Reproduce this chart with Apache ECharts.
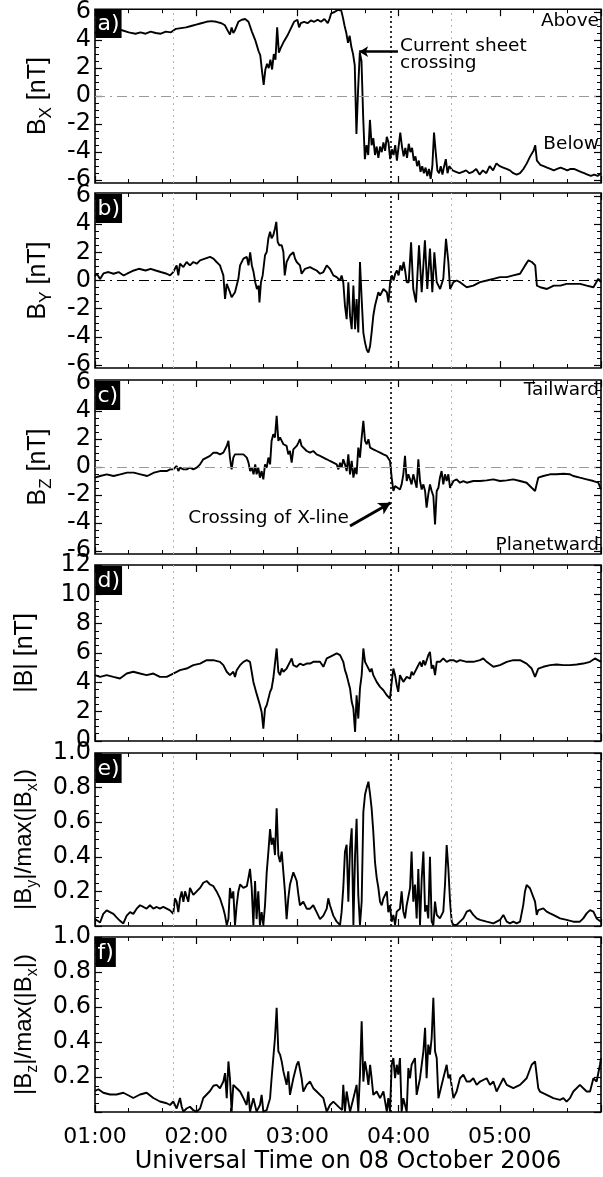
<!DOCTYPE html>
<html><head><meta charset="utf-8">
<script src="https://cdn.jsdelivr.net/npm/echarts@6/dist/echarts.min.js"></script>
<style>html,body{margin:0;padding:0;background:#fff}#c{width:603px;height:1177px}</style>
</head><body><div id="c"></div>
<script>
// time: minutes after 01:00 UT on 08 October 2006
const timeLabels = ['01:00','02:00','03:00','04:00','05:00','06:00'];
const fieldTicks = [-6,-4,-2,0,2,4,6];
const fieldMinorTicks = [-5.5,-5,-4.5,-3.5,-3,-2.5,-1.5,-1,-0.5,0.5,1,1.5,2.5,3,3.5,4.5,5,5.5];
const markerTimes = [46.2, 211.5];   // grey dotted reference times
const xlineTime = 175.5;             // black dotted: X-line crossing

const bxData = [[0,4.5],[3,4.7],[6,4.6],[10,4.7],[14,4.75],[16,4.7],[20,4.55],[24,4.45],[27,4.55],[30,4.45],[33,4.6],[36,4.5],[39,4.45],[42,4.6],[45,4.55],[48,4.8],[51,4.85],[54,4.9],[57,5.0],[60,5.1],[63,5.2],[66,5.3],[69,5.35],[72,5.3],[75,5.2],[77,5.05],[79,4.6],[80,4.4],[81,4.9],[82,4.5],[83,4.7],[85,5.3],[87,5.45],[89,5.5],[91,5.3],[93,4.6],[95,4.0],[96,3.6],[97,3.2],[98,2.9],[99,1.8],[100,0.8],[101,1.9],[102,2.3],[103,2.0],[104,2.6],[105,1.9],[106,3.0],[107,2.6],[108,4.9],[109,3.1],[110,3.4],[112,3.9],[114,4.3],[116,4.8],[118,5.3],[120,5.45],[121,4.9],[122,5.2],[124,5.3],[126,5.2],[128,5.4],[130,5.3],[132,5.45],[134,5.3],[136,5.5],[138,5.2],[139,5.5],[140,5.9],[142,6.0],[144,6.15],[146,6.1],[147,5.6],[148,5.0],[149,4.5],[150,3.8],[151,4.3],[152,3.5],[153,3.0],[154,2.2],[155,-2.7],[156,0.5],[157,3.1],[158,2.5],[159,-1.5],[160,-4.5],[161,-3.5],[162,-4.2],[163,-1.7],[164,-3.5],[165,-3.0],[166,-4.2],[167,-3.6],[168,-4.4],[169,-3.6],[170,-4.0],[171,-3.3],[172,-3.9],[173,-2.9],[174,-3.3],[175,-4.5],[176,-3.8],[177,-4.2],[178,-3.5],[179,-4.6],[181,-2.6],[182,-3.6],[183,-4.3],[184,-3.7],[185,-4.4],[186,-3.4],[187,-4.0],[188,-3.7],[189,-4.6],[190,-4.3],[191,-5.0],[192,-4.6],[193,-5.4],[194,-5.0],[195,-5.5],[196,-5.1],[197,-5.7],[198,-5.2],[199,-5.9],[200,-5.0],[201,-2.6],[202,-4.0],[203,-5.3],[204,-5.5],[205,-5.0],[206,-5.6],[207,-5.0],[208,-4.5],[209,-5.5],[210,-5.0],[212,-5.3],[214,-5.4],[216,-5.5],[218,-5.4],[220,-5.3],[222,-5.5],[224,-5.4],[226,-5.2],[228,-5.6],[230,-5.3],[232,-5.5],[234,-5.0],[236,-5.3],[238,-4.8],[240,-5.0],[242,-5.1],[244,-5.2],[246,-5.3],[248,-5.5],[250,-5.6],[252,-5.5],[254,-5.2],[256,-4.8],[258,-4.3],[260,-3.9],[261,-3.5],[262,-4.6],[264,-4.9],[266,-5.0],[268,-5.1],[270,-5.2],[272,-5.3],[274,-5.2],[276,-5.1],[278,-5.2],[280,-5.3],[282,-5.2],[284,-5.2],[286,-5.3],[288,-5.4],[290,-5.5],[292,-5.6],[294,-5.7],[296,-5.6],[298,-5.7],[300,-5.5]];

const byData = [[0,0.3],[1,0.5],[3,0.1],[5,0.5],[8,0.6],[11,0.48],[14,0.6],[17,0.36],[19,0.48],[23,0.71],[26,0.83],[30,0.71],[33,0.83],[36,0.71],[39,0.6],[42.5,0.48],[44.5,0.36],[46.4,0.6],[48.4,1.07],[49.4,0.36],[50.4,1.19],[52.4,0.95],[54.3,1.31],[56.3,1.07],[58.3,1.31],[60.3,1.19],[62.3,1.43],[65.2,1.55],[68.2,1.67],[70.2,1.55],[72.1,1.31],[74.1,1.07],[75.1,0.71],[76.1,0.36],[77.1,-1.31],[78.1,-0.24],[79.1,-0.12],[80,-0.83],[81,-1.19],[82,-1.31],[83,-0.83],[84,-0.36],[85,0.12],[86,1.07],[88,1.55],[90,1.67],[91,1.07],[92,2.0],[93,1.07],[94,0.6],[95,-0.12],[96,-0.6],[97,-0.36],[97.5,-1.55],[98.4,-0.12],[99.4,0.36],[100.8,1.79],[101.8,2.02],[102.8,3.0],[103.8,3.45],[104.7,3.0],[105.7,3.21],[106.7,3.69],[107.5,4.15],[108.3,2.74],[109.3,2.5],[110.7,2.5],[111.7,2.02],[112.5,0.36],[113.6,1.31],[114.6,1.55],[115.6,1.79],[117.6,2.0],[118.6,1.55],[119.6,1.31],[121.5,1.07],[122.5,0.48],[124.5,0.83],[127.5,0.95],[129.4,0.83],[131.4,0.71],[133.4,0.48],[135.4,0.6],[137.4,1.07],[138.3,0.95],[139.3,0.83],[141.3,0.36],[143.3,0.24],[145.3,0.0],[146.2,0.36],[147.2,-0.12],[148.2,-1.79],[149.2,-2.74],[150.2,-0.12],[151.2,-2.5],[152.2,-3.45],[153.2,-0.36],[154.2,-3.45],[155.1,-1.31],[156.1,-3.69],[157.1,1.31],[158.1,-1.31],[159.1,-3.69],[160.1,-4.4],[161.1,-4.9],[162.1,-5.1],[163.1,-4.64],[164,-3.69],[165,-2.5],[166,-1.79],[167,-1.31],[168,-0.83],[169,-1.07],[171,-0.6],[173,-0.83],[174,-1.55],[175,-0.12],[176,0.36],[177,0],[178,0.48],[179,0.71],[180,0.36],[181,1.07],[182,0.71],[183,1.31],[184,0.6],[184.8,-0.12],[186,-0.12],[187.4,2.7],[188.7,-0.6],[190.3,-1.55],[192.1,2.5],[193.7,-0.83],[195.6,2.85],[197,-0.6],[198.6,2.26],[200,-0.83],[201.2,2.0],[202.6,-0.12],[204.6,-0.6],[206.5,0.12],[208.1,2.95],[209.5,1.31],[210.5,-0.6],[212.5,-0.12],[214.4,0],[216.4,-0.12],[220.4,-0.48],[224.3,-0.36],[228.3,-0.12],[232.3,0],[236.2,0.12],[240.1,0.24],[244.1,0.24],[248,0.36],[252,0.48],[255,1.07],[257,1.43],[259,1.31],[261,1.07],[262,-0.36],[264,-0.48],[268,-0.6],[272,-0.36],[275.9,-0.36],[279.6,-0.24],[283.6,-0.24],[287.6,-0.24],[291.5,-0.36],[295.5,-0.48],[298.4,0.12],[300,-0.12]];

const bzData = [[0,-0.76],[3,-0.64],[7,-0.52],[11,-0.64],[15,-0.52],[19,-0.4],[23,-0.4],[27,-0.52],[31,-0.64],[35,-0.4],[38.5,-0.29],[42.5,-0.29],[44.5,-0.17],[46.4,-0.17],[48.4,0.07],[49.4,-0.29],[50.4,-0.05],[52.4,-0.17],[54.3,-0.17],[56.3,-0.05],[58.3,-0.17],[60.3,-0.05],[62.3,0.19],[64.2,0.55],[66.2,0.67],[68.2,0.79],[70.2,1.02],[72.1,1.02],[74.1,0.9],[76.1,1.02],[78.1,1.5],[79.1,1.86],[80,0.67],[81,-0.17],[82,0.67],[83,0.9],[84,1.02],[86,0.9],[88,0.9],[90,0.67],[91,0.31],[92,-0.29],[93,-0.05],[94,-0.52],[95,0.19],[95.8,-0.52],[96.8,-0.05],[97.8,-0.76],[98.8,-0.29],[99.8,-0.88],[100.8,0.19],[101.8,-0.05],[102.8,0.67],[103.8,0.19],[104.7,1.86],[105.7,2.33],[106.7,2.1],[107.7,3.64],[108.7,1.86],[109.7,2.1],[110.7,1.86],[111.7,1.62],[113.6,1.5],[114.6,0.9],[115.6,1.14],[116.6,0.31],[117.6,1.26],[119.6,1.5],[120.6,1.74],[121.5,1.98],[122.5,1.5],[123.5,1.38],[125.5,1.14],[127.5,1.02],[129.4,1.14],[131.4,0.9],[133.4,0.79],[135.4,0.67],[137.4,0.55],[139.3,0.43],[141.3,0.31],[143.3,0.19],[144.3,-0.17],[145.3,0.31],[146.2,-0.05],[147.2,0.55],[148.2,0.19],[149.2,-0.29],[150.2,0.9],[151.2,-0.52],[152.2,0.43],[153.2,-0.76],[154.2,-0.05],[155.1,-0.52],[156.1,1.38],[157.1,0.67],[158.1,2.1],[159.1,3.29],[160.1,1.86],[161.1,1.62],[162.1,1.98],[163.1,1.38],[164,1.5],[165,1.26],[167,1.14],[169,1.02],[171,0.9],[173,0.79],[174.9,0.43],[175.9,-0.76],[176.9,-1.71],[177.9,-1.36],[178.9,-1.48],[180.8,-1.6],[181.8,-1.24],[182.8,-0.52],[183.8,0.79],[184.8,-1.0],[185.8,-0.52],[186.8,-0.88],[187.7,-1.24],[188.7,-0.52],[189.7,-1.0],[190.7,-1.48],[191.7,0.55],[192.7,-1.0],[193.7,-1.6],[194.7,-1.24],[195.7,-1.71],[196.6,-2.9],[197.6,-1.95],[198.6,-1.24],[199.6,-1.71],[200.6,-2.07],[201.6,-4.1],[202.6,-1.71],[203.6,-1.48],[204.5,-0.76],[205.5,-0.29],[206.5,-1.24],[207.5,-0.52],[208.5,-1.0],[209.5,-0.52],[210.5,-1.48],[212.5,-1.0],[214.4,-0.88],[216.4,-1.12],[218.4,-1.0],[220.4,-1.12],[224.3,-1.0],[228.3,-1.0],[232.2,-0.95],[236.2,-0.88],[240.1,-1.0],[244.1,-0.95],[248,-0.88],[252,-1.0],[255.9,-1.12],[258.9,-1.48],[260.9,-1.71],[262.8,-0.76],[265.8,-0.64],[269.8,-0.52],[273.7,-0.52],[277.7,-0.48],[281.6,-0.52],[283.6,-0.64],[287.5,-0.76],[291.5,-0.88],[295.5,-1.0],[298.4,-1.12],[300,-1.6]];

const btData = [[0,4.49],[3,4.37],[6.9,4.49],[10.9,4.37],[14.8,4.26],[18.8,4.6],[22.7,4.72],[26.7,4.6],[30.6,4.49],[34.6,4.6],[38.5,4.37],[42.5,4.37],[46.4,4.6],[50.4,4.83],[54.3,4.94],[58.3,5.17],[62.3,5.28],[66.2,5.51],[70.2,5.51],[74.1,5.4],[76.1,5.17],[78.1,4.72],[80,4.49],[82,4.72],[83,4.37],[84,4.83],[86,5.17],[88,5.4],[90,5.51],[91.9,5.4],[92.9,4.72],[93.9,4.03],[95.8,3.23],[97.8,2.44],[98.8,1.98],[99.8,0.84],[100.8,2.21],[101.8,2.44],[102.8,2.89],[103.8,3.35],[104.7,3.58],[105.7,4.26],[106.7,4.37],[107.7,6.31],[108.7,4.72],[109.7,4.49],[110.7,4.94],[111.7,4.72],[113.6,4.94],[115.6,5.4],[116.6,5.63],[117.6,5.17],[119.6,5.06],[121.5,5.28],[123.5,5.17],[125.5,5.28],[127.5,5.28],[129.4,5.4],[131.4,5.4],[133.4,5.4],[135.4,5.06],[137.4,5.63],[139.3,5.74],[141.3,5.85],[143.3,5.97],[145.3,5.85],[147.2,5.4],[148.2,4.83],[149.2,4.49],[150.2,4.03],[151.2,3.58],[152.2,2.67],[153.2,2.21],[154.2,0.62],[155.1,3.12],[156.1,1.53],[157.1,3.58],[158.1,4.49],[159.1,6.31],[160.1,5.4],[161.1,5.17],[162.1,5.06],[163.1,4.72],[164,4.94],[165,4.49],[167,4.03],[169,3.69],[171,3.46],[173,3.12],[174.9,2.89],[175.9,4.03],[176.9,4.94],[177.9,4.49],[178.9,3.8],[179.8,3.35],[180.8,4.49],[181.8,4.26],[182.8,4.03],[184.8,4.37],[186.8,4.26],[187.7,4.72],[188.7,4.49],[190.7,4.94],[192.7,5.4],[193.7,5.06],[194.7,5.51],[195.7,5.17],[197.6,5.85],[198.6,6.08],[199.6,4.94],[200.6,5.17],[201.6,4.49],[202.6,5.4],[204.5,5.4],[206.5,5.63],[208.5,5.4],[210.5,5.51],[212.5,5.51],[214.4,5.4],[216.4,5.51],[220.4,5.4],[224.3,5.4],[228.3,5.51],[230.2,5.63],[232.2,5.4],[236.2,5.06],[240.1,5.17],[244.1,5.4],[248,5.51],[252,5.51],[255.9,5.28],[258.9,4.94],[260.9,4.37],[262.8,4.94],[265.8,5.06],[269.8,5.17],[273.7,5.22],[277.7,5.17],[281.6,5.17],[285.6,5.22],[289.5,5.28],[293.5,5.4],[296.4,5.63],[300,5.4]];

const ryData = [[0,0.04],[1,0.05],[3,0.02],[4.9,0.07],[6.9,0.09],[8.9,0.08],[10.9,0.07],[12.8,0.05],[14.8,0.03],[16.8,0.015],[17.8,0.006],[18.8,0.06],[20.8,0.08],[22.7,0.07],[24.7,0.1],[26.7,0.12],[28.7,0.11],[30.6,0.1],[32.6,0.12],[34.6,0.1],[36.6,0.11],[38.5,0.1],[40.5,0.11],[42.5,0.1],[44.5,0.09],[46.4,0.07],[47.4,0.16],[48.4,0.14],[49.4,0.08],[50.4,0.16],[51.4,0.2],[52.4,0.14],[53.4,0.2],[54.3,0.19],[55.3,0.14],[56.3,0.22],[58.3,0.18],[60.3,0.2],[62.3,0.22],[64.2,0.25],[66.2,0.26],[68.2,0.24],[70.2,0.23],[72.1,0.2],[74.1,0.16],[76.1,0.1],[77.1,0.06],[78.1,0.005],[79.1,0.04],[80,0.22],[81,0.16],[82,0.2],[83,0.005],[84,0.12],[85,0.2],[86,0.24],[87,0.23],[88,0.22],[90,0.23],[91,0.28],[91.9,0.33],[92.9,0.22],[93.9,0.005],[94.9,0.26],[95.8,0.04],[96.8,0.2],[97.8,0.005],[98.8,0.08],[99.8,0.005],[100.8,0.12],[101.8,0.31],[102.8,0.43],[103.8,0.56],[104.7,0.47],[105.7,0.51],[106.7,0.41],[107.7,0.68],[108.7,0.41],[109.7,0.37],[110.7,0.43],[111.7,0.31],[112.6,0.2],[113.6,0.04],[114.6,0.16],[115.6,0.24],[117.6,0.31],[119.6,0.26],[120.6,0.18],[121.5,0.12],[123.5,0.14],[125.5,0.1],[127.5,0.1],[129.4,0.12],[131.4,0.08],[133.4,0.04],[135.4,0.06],[137.4,0.1],[138.3,0.16],[139.3,0.12],[141.3,0.06],[143.3,0.025],[145.3,0.006],[146.2,0.08],[147.2,0.22],[148.2,0.43],[149.2,0.47],[150.2,0.14],[151.2,0.45],[152.2,0.565],[153.2,0.006],[154.2,0.41],[155.1,0.62],[156.1,0.18],[157.1,0.006],[158.1,0.14],[159.1,0.66],[160.1,0.76],[161.1,0.8],[162.1,0.834],[163.1,0.76],[164,0.68],[165,0.545],[166,0.37],[167,0.28],[168,0.22],[169,0.14],[170,0.12],[171,0.16],[173,0.2],[173.9,0.08],[174.9,0.12],[175.9,0.025],[176.9,0.064],[177.9,0.006],[178.9,0.083],[180.8,0.1],[181.8,0.2],[182.8,0.083],[183.8,0.044],[184.8,0.12],[186.8,0.22],[187.7,0.43],[188.7,0.14],[189.7,0.24],[190.7,0.044],[191.7,0.33],[192.7,0.006],[193.7,0.276],[194.7,0.43],[195.7,0.083],[196.6,0.12],[197.6,0.044],[198.6,0.4],[199.6,0.025],[200.6,0.006],[201.6,0.141],[202.6,0.064],[204.5,0.044],[206.5,0.083],[207.5,0.237],[208.5,0.468],[209.5,0.333],[210.5,0.141],[211.5,0.025],[212.5,0.006],[214.4,0.006],[216.4,0.025],[218.4,0.044],[220.4,0.083],[222.3,0.092],[224.3,0.064],[226.3,0.044],[228.3,0.035],[232.2,0.025],[236.2,0.015],[240.1,0.035],[242.1,0.064],[244.1,0.025],[246,0.015],[248,0.025],[250,0.015],[252,0.025],[253.9,0.121],[254.9,0.198],[255.9,0.237],[257.9,0.218],[258.9,0.218],[260.9,0.141],[261.9,0.064],[262.8,0.092],[263.8,0.083],[265.8,0.102],[267.8,0.083],[269.8,0.073],[271.7,0.064],[275.7,0.044],[279.6,0.035],[283.6,0.025],[287.5,0.025],[289.5,0.044],[291.5,0.073],[293.5,0.092],[295.5,0.083],[297.4,0.044],[300,0.025]];

const rzData = [[0,0.12],[2,0.13],[4.9,0.11],[8.9,0.1],[12.8,0.1],[16.8,0.11],[20.8,0.09],[22.7,0.08],[26.7,0.1],[30.6,0.11],[34.6,0.08],[38.5,0.06],[42.5,0.05],[44.5,0.04],[46.4,0.06],[48.4,0.02],[50.4,0.08],[51.4,0.03],[52.4,0.002],[54.3,0.02],[56.3,0.03],[58.3,0.01],[60.3,0.002],[62.3,0.02],[64.2,0.08],[66.2,0.1],[68.2,0.12],[70.2,0.15],[72.1,0.155],[74.1,0.136],[76.1,0.174],[77.1,0.222],[78.1,0.079],[79.1,0.289],[80,0.193],[81,0.002],[82,0.155],[84,0.136],[86,0.117],[88,0.079],[89.9,0.04],[90.9,0.117],[91.9,0.002],[93.9,0.079],[95.8,0.002],[97.8,0.04],[98.8,0.098],[99.8,0.002],[101.8,0.011],[103.8,0.079],[104.7,0.193],[105.7,0.308],[106.7,0.423],[107.7,0.596],[108.7,0.347],[109.7,0.328],[110.7,0.289],[111.7,0.232],[113.6,0.155],[114.6,0.232],[115.6,0.098],[117.6,0.193],[119.6,0.27],[120.6,0.289],[122.5,0.193],[123.5,0.117],[125.5,0.155],[127.5,0.174],[129.4,0.136],[131.4,0.117],[135.4,0.079],[137.4,0.002],[139.3,0.04],[141.3,0.059],[144.3,0.031],[146.5,0.011],[147.2,0.155],[148.2,0.002],[149.2,0.117],[150.2,0.059],[151.2,0.002],[153.2,0.079],[155.1,0.155],[156.1,0.002],[157.1,0.213],[158.1,0.519],[159.1,0.174],[160.1,0.289],[161.1,0.232],[162.1,0.155],[163.1,0.27],[164,0.193],[165,0.098],[167,0.117],[169,0.079],[171,0.117],[173,0.002],[173.9,0.079],[174.9,0.002],[175.9,0.27],[176.9,0.308],[177.9,0.193],[178.9,0.27],[179.8,0.213],[180.8,0.308],[181.8,0.002],[182.8,0.079],[184.8,0.002],[185.8,0.251],[186.8,0.193],[187.7,0.27],[189.7,0.308],[190.7,0.098],[192.7,0.193],[194.7,0.347],[195.7,0.481],[196.6,0.193],[197.6,0.385],[198.6,0.328],[199.6,0.423],[200.6,0.653],[201.6,0.347],[202.6,0.308],[203.6,0.079],[204.5,0.079],[206.5,0.193],[208.5,0.27],[209.5,0.193],[210.5,0.213],[212.5,0.079],[214.4,0.117],[216.4,0.193],[218.4,0.213],[220.4,0.174],[222.3,0.174],[224.3,0.193],[226.3,0.155],[228.3,0.174],[232.2,0.193],[234.2,0.155],[236.2,0.174],[238.1,0.117],[240.1,0.155],[242.1,0.193],[244.1,0.155],[248,0.136],[252,0.155],[255.9,0.193],[258.9,0.27],[260.9,0.289],[262.8,0.136],[263.8,0.117],[267.8,0.098],[271.7,0.079],[275.7,0.069],[277.7,0.079],[279.6,0.059],[281.6,0.079],[283.6,0.117],[287.5,0.155],[289.5,0.136],[291.5,0.117],[293.5,0.117],[295.5,0.193],[297.4,0.174],[299.4,0.27],[300,0.308]];

const FT = "'DejaVu Sans', sans-serif";
const FN = "'Liberation Sans', Arial, sans-serif";

const panels = [
  {key:'a)', data:bxData, min:-6.2, max:6.2, custom:true, name:'{n|B}{s|X}{n| [nT]}', zero:'#9a9a9a', top:8, height:175, gap:40, ns:25},
  {key:'b)', data:byData, min:-6.2, max:6.2, custom:true, name:'{n|B}{s|Y}{n| [nT]}', zero:'#000', top:193, height:175, gap:40, ns:25},
  {key:'c)', data:bzData, min:-6.2, max:6.2, custom:true, name:'{n|B}{s|Z}{n| [nT]}', zero:'#9a9a9a', top:380, height:174, gap:40, ns:25},
  {key:'d)', data:btData, min:0, max:12, interval:2, name:'{n||B| [nT]}', zero:null, top:565, height:176, gap:53, ns:25, fmt:v=>String(v)},
  {key:'e)', data:ryData, min:0, max:1, interval:0.2, name:'{n||B}{s|y}{n||/max(|B}{s|x}{n||)}', zero:null, top:753, height:173, gap:54, ns:24, fmt:v=>v.toFixed(1), hideMin:true},
  {key:'f)', data:rzData, min:0, max:1, interval:0.2, name:'{n||B}{s|z}{n||/max(|B}{s|x}{n||)}', zero:null, top:937, height:175, gap:54, ns:24, fmt:v=>v.toFixed(1), hideMin:true}
];

const tickStyle = {color:'#000', width:1.2};
const option = {backgroundColor:'#fff', animation:false, grid:[], xAxis:[], yAxis:[], series:[], graphic:[]};

panels.forEach((p, i) => {
  option.grid.push({left:95, width:506, top:p.top, height:p.height, show:true, borderColor:'#000', borderWidth:1.6, backgroundColor:'rgba(0,0,0,0)'});
  const xBase = {gridIndex:i, type:'value', min:0, max:300, interval:60,
    axisLine:{show:false, onZero:false}, splitLine:{show:false},
    axisTick:{show:true, inside:true, length:7, lineStyle:tickStyle},
    minorTick:{show:true, splitNumber:3, length:4, lineStyle:{color:'#000', width:1}}};
  const last = i === panels.length - 1;
  option.xAxis.push(Object.assign({}, xBase, {position:'bottom',
    axisLabel: last ? {show:true, margin:14, color:'#000', fontFamily:FT, fontSize:22, showMaxLabel:false, hideOverlap:false,
      formatter: v => timeLabels[Math.round(v/60)]} : {show:false},
    name: last ? 'Universal Time on 08 October 2006' : '', nameLocation:'middle', nameGap:38,
    nameTextStyle:{color:'#000', fontFamily:FT, fontSize:24}}));
  option.xAxis.push(Object.assign({}, xBase, {position:'top', axisLabel:{show:false}}));

  const yIdx = option.yAxis.length;
  const nameCfg = {name:p.name, nameLocation:'middle', nameGap:p.gap,
    nameTextStyle:{color:'#000', rich:{
      n:{fontFamily:FN, fontSize:p.ns, lineHeight:34, color:'#000'},
      s:{fontFamily:FN, fontSize:Math.round(p.ns*0.68), color:'#000', verticalAlign:'bottom'}}}};
  const labelCfg = {color:'#000', fontFamily:FT, fontSize:24, margin:4, hideOverlap:false};
  if (p.custom) {
    const common = {gridIndex:i, type:'value', min:p.min, max:p.max, axisLine:{show:false, onZero:false}, splitLine:{show:false}};
    ['left','right'].forEach(pos => {
      option.yAxis.push(Object.assign({}, common, {position:pos,
        axisTick:{show:true, inside:true, length:7, lineStyle:tickStyle, customValues:fieldTicks},
        axisLabel: pos === 'left' ? Object.assign({customValues:fieldTicks, formatter:v=>String(v)}, labelCfg) : {show:false}},
        pos === 'left' ? nameCfg : {}));
      option.yAxis.push(Object.assign({}, common, {position:pos,
        axisTick:{show:true, inside:true, length:4, lineStyle:{color:'#000', width:1}, customValues:fieldMinorTicks},
        axisLabel:{show:false}}));
    });
  } else {
    const common = {gridIndex:i, type:'value', min:p.min, max:p.max, interval:p.interval, axisLine:{show:false, onZero:false}, splitLine:{show:false},
      axisTick:{show:true, inside:true, length:7, lineStyle:tickStyle},
      minorTick:{show:true, splitNumber:4, length:4, lineStyle:{color:'#000', width:1}}};
    option.yAxis.push(Object.assign({}, common, {position:'left',
      axisLabel:Object.assign({formatter:p.fmt, showMinLabel:!p.hideMin, showMaxLabel:true}, labelCfg)}, nameCfg));
    option.yAxis.push(Object.assign({}, common, {position:'right', axisLabel:{show:false}}));
  }

  const ml = [
    {xAxis:markerTimes[0], lineStyle:{color:'#b5b5b5', type:[2,4], width:1}},
    {xAxis:markerTimes[1], lineStyle:{color:'#b5b5b5', type:[2,4], width:1}},
    {xAxis:xlineTime, lineStyle:{color:'#000', type:[2,3], width:1.6}}
  ];
  if (p.zero) ml.push({yAxis:0, lineStyle:{color:p.zero, type:[10,5,2,5], width:p.zero==='#000'?1.2:1}});
  if (i === 0) ml.push([{coord:[179.6,3.17], symbol:'none', lineStyle:{color:'#000', width:2.6, type:'solid'}},
                        {coord:[156.6,3.17], symbol:'arrow', symbolSize:[8,9], lineStyle:{color:'#000', width:2.6, type:'solid'}}]);
  if (i === 2) ml.push([{coord:[151.2,-4.2], symbol:'none', lineStyle:{color:'#000', width:3, type:'solid'}},
                        {coord:[175.3,-2.55], symbol:'arrow', symbolSize:[10,12], lineStyle:{color:'#000', width:3, type:'solid'}}]);

  option.series.push({type:'line', xAxisIndex:2*i, yAxisIndex:yIdx, data:p.data, showSymbol:false, symbol:'none',
    lineStyle:{color:'#000', width:1.9}, silent:true, animation:false, z:3,
    markLine:{silent:true, symbol:['none','none'], label:{show:false}, animation:false, emphasis:{disabled:true}, data:ml}});

  option.graphic.push({type:'text', x:95.5, y:p.top + 1, z:100,
    style:{text:p.key, fill:'#fff', backgroundColor:'#000', padding:[4,2,3,2], font:'22px ' + FT}});
});

const ann = (text, x, y, align, va) => ({type:'text', x, y, z:100,
  style:{text, fill:'#000', font:'18.5px ' + FT, align, verticalAlign:va, textAlign:align, textVerticalAlign:va, lineHeight:17}});
option.graphic.push(ann('Above', 599, 21, 'right', 'middle'));
option.graphic.push(ann('Below', 599, 144, 'right', 'middle'));
option.graphic.push(ann('Current sheet\ncrossing', 400, 38, 'left', 'top'));
option.graphic.push(ann('Tailward', 599, 390, 'right', 'middle'));
option.graphic.push(ann('Planetward', 599, 545, 'right', 'middle'));
option.graphic.push(ann('Crossing of X-line', 349, 518, 'right', 'middle'));

const chart = echarts.init(document.getElementById('c'), null, {renderer:'canvas'});
chart.setOption(option);
</script></body></html>
